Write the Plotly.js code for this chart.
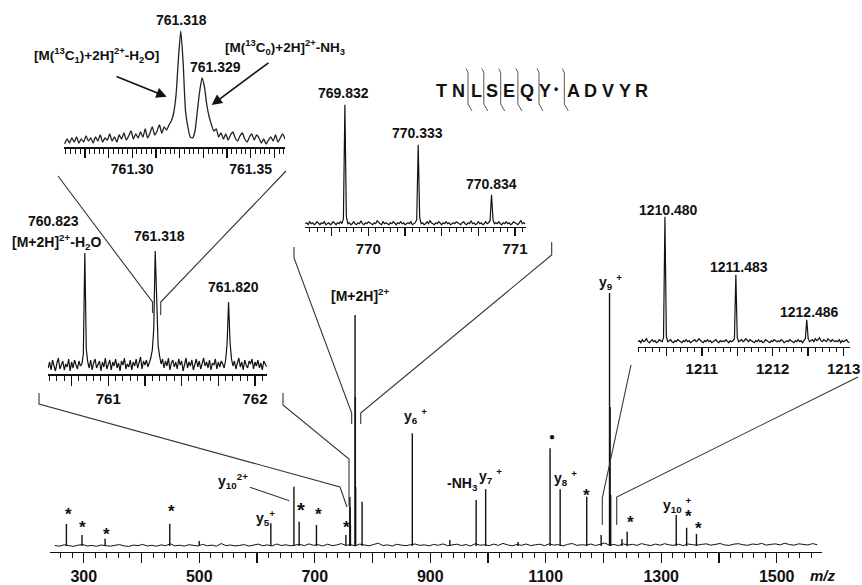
<!DOCTYPE html>
<html><head><meta charset="utf-8">
<script src="https://cdn.plot.ly/plotly-3.0.1.min.js"></script>
<style>html,body{margin:0;padding:0;background:#fff}</style>
</head><body><div id="chart" style="width:862px;height:585px"></div>
<script>
// ---------------- DATA ----------------
// Main MS/MS spectrum: labelled / visible peaks (m/z, height above baseline)
const mainPeakMz  = [270, 297, 337, 449, 500, 624, 664, 673, 703, 754, 760.82, 761.32, 761.82, 769.83, 770.33, 770.83, 782, 869, 934, 979.5, 996, 1052, 1107.5, 1125, 1171, 1196, 1210.48, 1211.48, 1212.49, 1232, 1241, 1326, 1344, 1361];
const mainPeakInt = [23, 12, 8.3, 23.3, 6, 23.7, 60.3, 25.3, 22, 12, 50, 40, 22, 232, 150, 60, 45.3, 113.7, 7, 47, 57.7, 5, 98.7, 57.7, 50.3, 12, 254, 140, 52, 8, 15.3, 32, 19.3, 13];
// Main spectrum noise floor, sampled from m/z 250 every 8 units
const mainNoiseStart = 250, mainNoiseStep = 8;
const mainNoise = [1.5,0.8,2.2,1.2,0.6,1.8,2.5,1.0,1.6,0.7,2.0,1.3,0.9,1.7,2.4,1.1,0.6,1.9,1.4,2.6,
1.0,1.7,0.8,2.1,1.3,3.2,1.1,1.8,0.9,2.3,1.5,1.0,2.7,1.2,1.9,0.8,3.5,1.4,2.0,1.1,
1.6,2.4,0.9,1.8,2.9,1.3,2.1,1.0,3.0,1.5,2.2,1.2,1.8,2.6,1.4,3.1,1.7,2.3,1.0,2.8,
1.4,2.0,3.4,1.6,2.4,1.1,2.9,1.8,1.2,2.5,3.8,1.5,2.1,1.0,2.7,1.9,1.3,2.3,3.0,1.6,
2.2,1.1,2.6,1.7,3.1,1.3,2.0,2.8,1.5,2.4,1.0,3.3,1.8,2.2,1.4,2.9,1.6,3.6,2.1,1.2,
2.5,1.7,3.0,1.4,2.2,2.8,1.3,3.2,1.9,2.4,1.1,2.7,3.5,1.6,2.3,1.8,3.0,1.5,2.6,4.0,
1.9,2.5,1.4,3.1,2.0,2.7,1.6,3.4,2.2,1.5,2.9,1.8,3.3,2.1,1.7,2.8,1.4,3.0,2.3,1.9,
2.6,3.2,1.8,2.4,3.5,2.0,1.6,2.9,3.3,2.2,1.7,3.0,2.5,3.6,1.9,2.7,3.1,2.1,3.8,2.4,1.8,3.2,2.6,2.0,3.4,2.3];
const mainTickVals = [300,400,500,600,700,800,900,1000,1100,1200,1300,1400,1500];
const mainTickText = ['300','','500','','700','','900','','1100','','1300','','1500'];

// Inset A: 761.27 - 761.365 high-resolution profile
const insetAStart = 761.2715, insetAStep = 0.001;
const insetA = [3,8,4,9,5,10,4,8,5,11,6, 9,4,10,6,12,5,9,7,13,6,10, 5,12,8,14,7,11,16,8,13,9,15,
10,18,9,14,20,12,16,22, 14,20,17,22,26,34,52,88,116,84,36,20,10,9,16,36,56,69,60,42,30,22,16,18,
10,14,8,13,7,12,15,9,6,11,14,8,5,10,13,7,12,9,4,8,3,7,10,6,12,5,9,13,8];
const insetATickVals = [761.28,761.29,761.30,761.31,761.32,761.33,761.34,761.35,761.36];
const insetATickText = ['','','761.30','','','','','761.35',''];

// Inset B: 760.59 - 762.08
const insetBStart = 760.59, insetBStep = 0.01;
const insetB = [6,12,4,14,8,3,11,16,5,9, 13,4,10,7,15,3,12,6,14,9, 5,13,8,10,20,121,25,12,6,14,
4,11,15,6,9,13,3,12,7,16, 5,10,14,4,12,8,15,6,11,3, 13,9,16,5,10,7,14,4,12,8,
15,6,11,17,5,13,9,14,7,12, 16,24,45,123,60,28,18,10,15,6, 13,8,16,4,11,14,7,12,5,15,
9,13,3,10,16,6,12,8,14,4, 11,15,7,13,5,10,16,8,12,6, 14,4,11,9,15,5,12,7,13,10,
6,14,30,72,32,15,8,13,5,11, 16,7,12,4,14,9,6,13,10,15, 5,12,8,14,6,11,4,13,9,7];
const insetBTickVals = [760.75,761,761.25,761.5,761.75,762];
const insetBTickText = ['','761','','','','762'];

// Inset C: 769.57 - 771.07
const insetCStart = 769.57, insetCStep = 0.01;
const insetC = [3,4,2,5,3,4,2,3,5,3, 2,4,3,5,2,3,4,2,3,5, 3,2,4,3,5,3,8,122,10,3,
4,2,3,5,3,2,4,3,6,3, 2,4,3,5,4,3,2,4,3,6, 4,3,2,5,3,4,3,2,4,3, 5,3,2,4,3,5,3,4,2,3,
4,3,5,2,3,4,7,82,9,3, 4,2,3,5,3,6,4,3,2,4, 3,5,3,2,4,3,5,3,4,2, 3,4,3,5,4,3,2,4,5,3,
2,4,3,6,3,4,2,3,5,3, 4,2,3,5,3,4,6,32,7,3, 4,3,5,3,2,4,3,5,3,4, 2,3,5,4,3,2,4,6,3,4,3];
const insetCTickVals = [769.75,770,770.25,770.5,770.75,771];
const insetCTickText = ['','770','','','','771'];

// Inset D: 1210.10 - 1213.08
const insetDStart = 1210.10, insetDStep = 0.02;
const insetD = [5,6,4,7,5,6,8,5,4,6, 7,5,6,4,5,7,6,5,9,130, 10,5,6,7,5,4,6,5,7,6, 5,4,6,5,7,5,6,4,5,6,
7,5,6,8,6,5,4,6,5,7, 5,6,4,5,6,7,5,4,6,5, 6,5,7,5,4,6,5,6,8,72, 9,5,6,7,5,6,8,6,5,7,
6,5,4,6,5,7,5,6,4,5, 7,6,5,4,6,5,7,6,5,6, 5,7,6,4,5,6,5,7,6,5, 4,6,5,7,5,6,4,6,8,27,
8,5,6,7,5,8,6,7,9,6, 5,7,6,5,8,6,5,7,6,5, 6,5,7,4,6,5,6,7,5,4];
const insetDTickVals = [1210.5,1211,1211.5,1212,1212.5,1213];
const insetDTickText = ['','1211','','1212','','1213'];

const peptide = ['T','N','L','S','E','Q','Y','•','A','D','V','Y','R'];

// ---------------- LAYOUT HELPERS ----------------
const W = 862, H = 585;
const FONT = 'Liberation Sans, Arial, sans-serif';
const px = x => x / W;
const py = y => 1 - y / H;

function grid(start, step, vals) { return vals.map((_, i) => +(start + step * i).toFixed(5)); }

function xax(dom, range, anchor, tv, tt, len, mdt, mt0, fs) {
  return {domain: [px(dom[0]), px(dom[1])], range, anchor, showline: true, linecolor: '#111', linewidth: 1.5,
    ticks: 'outside', ticklen: len, tickwidth: 1.4, tickcolor: '#111', tickmode: 'array', tickvals: tv, ticktext: tt,
    showgrid: false, zeroline: false, fixedrange: true,
    tickfont: {family: FONT, size: fs, color: '#111', weight: 'bold'},
    minor: {tickmode: 'linear', tick0: mt0, dtick: mdt, ticks: 'outside', ticklen: Math.round(len / 2), tickwidth: 1, tickcolor: '#111', showgrid: false}};
}
function yax(bot, top, range, anchor) {
  return {domain: [py(bot), py(top)], range, anchor, visible: false, fixedrange: true};
}

const traces = [];
const lineStyle = {color: '#111', width: 1.2};
traces.push({type: 'scatter', mode: 'lines', x: grid(mainNoiseStart, mainNoiseStep, mainNoise), y: mainNoise, xaxis: 'x', yaxis: 'y', line: {color: '#111', width: 1}, hoverinfo: 'skip'});
const sx = [], sy = [];
mainPeakMz.forEach((m, i) => { sx.push(m, m, null); sy.push(1, mainPeakInt[i], null); });
traces.push({type: 'scatter', mode: 'lines', x: sx, y: sy, xaxis: 'x', yaxis: 'y', line: {color: '#111', width: 1.4}, hoverinfo: 'skip'});
traces.push({type: 'scatter', mode: 'lines', x: grid(insetAStart, insetAStep, insetA), y: insetA, xaxis: 'x2', yaxis: 'y2', line: {color: '#222', width: 1.3, shape: 'spline', smoothing: 0.6}, hoverinfo: 'skip'});
traces.push({type: 'scatter', mode: 'lines', x: grid(insetBStart, insetBStep, insetB), y: insetB, xaxis: 'x3', yaxis: 'y3', line: {color: '#111', width: 1.2}, hoverinfo: 'skip'});
traces.push({type: 'scatter', mode: 'lines', x: grid(insetCStart, insetCStep, insetC), y: insetC, xaxis: 'x4', yaxis: 'y4', line: lineStyle, hoverinfo: 'skip'});
traces.push({type: 'scatter', mode: 'lines', x: grid(insetDStart, insetDStep, insetD), y: insetD, xaxis: 'x5', yaxis: 'y5', line: lineStyle, hoverinfo: 'skip'});

// ---------------- ANNOTATIONS ----------------
const ann = [];
function T(text, x, y, size, extra) {
  ann.push(Object.assign({xref: 'paper', yref: 'paper', x: px(x), y: py(y), text, showarrow: false,
    xanchor: 'center', yanchor: 'middle', font: {family: FONT, size: size || 14, color: '#111', weight: 'bold'}}, extra || {}));
}
function A(hx, hy, tx, ty) {
  ann.push({xref: 'paper', yref: 'paper', x: px(hx), y: py(hy), ax: tx - hx, ay: ty - hy, text: '', showarrow: true,
    arrowhead: 2, arrowsize: 1.3, arrowwidth: 1.6, arrowcolor: '#111'});
}
// inset A
T('761.318', 181.5, 20);
T('761.329', 215, 66.5);
T('[M(<sup>13</sup>C<sub>1</sub>)+2H]<sup>2+</sup>-H<sub>2</sub>O]', 32, 55, 13.5, {xanchor: 'left'});
T('[M(<sup>13</sup>C<sub>0</sub>)+2H]<sup>2+</sup>-NH<sub>3</sub>', 223, 47, 13.5, {xanchor: 'left'});
A(166.7, 96.7, 115, 76);
A(211.7, 105, 270, 61.7);
// inset B
T('760.823', 53, 221);
T('[M+2H]<sup>2+</sup>-H<sub>2</sub>O', 56, 242);
T('761.318', 159, 236);
T('761.820', 233, 287);
// inset C
T('769.832', 343.3, 93.3);
T('770.333', 417.7, 132.7);
T('770.834', 491.7, 184);
// inset D
T('1210.480', 668.3, 210);
T('1211.483', 739.3, 267.3);
T('1212.486', 809.3, 312.3);
// main labels
T('[M+2H]<sup>2+</sup>', 360.5, 295);
T('y<sub>9</sub> <sup>+</sup>', 610, 282);
T('y<sub>6</sub> <sup>+</sup>', 415, 416);
T('-NH<sub>3</sub>', 462, 484);
T('y<sub>7</sub> <sup>+</sup>', 490, 476);
T('y<sub>8</sub> <sup>+</sup>', 565, 478);
T('●', 552.3, 436.7, 10);
T('y<sub>10</sub> <sup>+</sup>', 677, 505);
T('y<sub>10</sub><sup>2+</sup>', 233, 481);
T('y<sub>5</sub><sup>+</sup>', 265, 518);
[[68.3,510],[82.7,523.3],[106.7,530.7],[171.7,507.3],[318.3,510.7],[346.7,523.3],[586.7,491.7],[630,518.3],[688.3,512.7],[698.3,524]]
  .forEach(p => T('*', p[0], p[1] + 4, 17));
T('*', 301, 510, 20);
T('<i>m/z</i>', 823, 575, 15);
// peptide sequence
const seqX = [441, 458.3, 476.7, 492.3, 509, 527.3, 545, 555.5, 573.3, 590, 608.3, 625, 641.5];
peptide.forEach((c, i) => T(c, seqX[i], c === '•' ? 89 : 91, c === '•' ? 12 : 18));

// ---------------- SHAPES (connectors) ----------------
function path(pts) { return pts.map((p, i) => (i ? 'L' : 'M') + px(p[0]).toFixed(5) + ',' + py(p[1]).toFixed(5)).join(' '); }
const shapes = [];
function S(pts, color, width) { shapes.push({type: 'path', xref: 'paper', yref: 'paper', path: path(pts), line: {color: color || '#333', width: width || 1.1}}); }
// inset A -> inset B
S([[58,176],[152.5,302],[152.5,313]]);
S([[286,171],[160.7,302],[160.7,315]]);
// inset B -> main
S([[39,393],[39,404],[340,487],[347,507]]);
S([[283,393],[283,405],[349,459],[349,506]]);
// inset C -> main
S([[294,247],[294,258],[351.7,413],[351.7,424]]);
S([[551.7,242],[551.7,255],[360.7,413],[360.7,424]]);
// inset D -> main
S([[631,365],[602.3,498],[602.3,525]]);
S([[858,377],[616.7,497],[616.7,525]]);
// y10 2+ leader
S([[250,487.3],[289.3,500.7]], '#222', 1);
// fragment markers
[468, 483.8, 500.7, 517.9, 539, 564.3].forEach(x => S([[x - 2, 68.5],[x, 72.5],[x, 104],[x + 4, 111]], '#555', 1));

const layout = {
  width: W, height: H, margin: {l: 0, r: 0, t: 0, b: 0, pad: 0},
  paper_bgcolor: '#fff', plot_bgcolor: 'rgba(0,0,0,0)', showlegend: false,
  font: {family: FONT, size: 14, color: '#111', weight: 'bold'},
  xaxis:  xax([50, 822], [241.6, 1578.4], 'y', mainTickVals, mainTickText, 10, 20, 240, 16),
  yaxis:  yax(551.7, 280, [-4.7, 267], 'x'),
  xaxis2: xax([64, 285], [761.2712, 761.3645], 'y2', insetATickVals, insetATickText, 9, 0.002, 761.27, 14),
  yaxis2: yax(147, 25, [0, 122], 'x2'),
  xaxis3: xax([47.7, 266.7], [760.587, 762.08], 'y3', insetBTickVals, insetBTickText, 10, 0.05, 760.6, 15),
  yaxis3: yax(374, 245, [0, 129], 'x3'),
  xaxis4: xax([305, 525.7], [769.568, 771.073], 'y4', insetCTickVals, insetCTickText, 8, 0.05, 769.6, 15),
  yaxis4: yax(226.7, 100, [0, 126.7], 'x4'),
  xaxis5: xax([638, 850], [1210.10, 1213.09], 'y5', insetDTickVals, insetDTickText, 8, 0.1, 1210.1, 15),
  yaxis5: yax(346.7, 210, [0, 136.7], 'x5'),
  annotations: ann, shapes: shapes
};
Plotly.newPlot('chart', traces, layout, {displayModeBar: false, staticPlot: true});
</script></body></html>
